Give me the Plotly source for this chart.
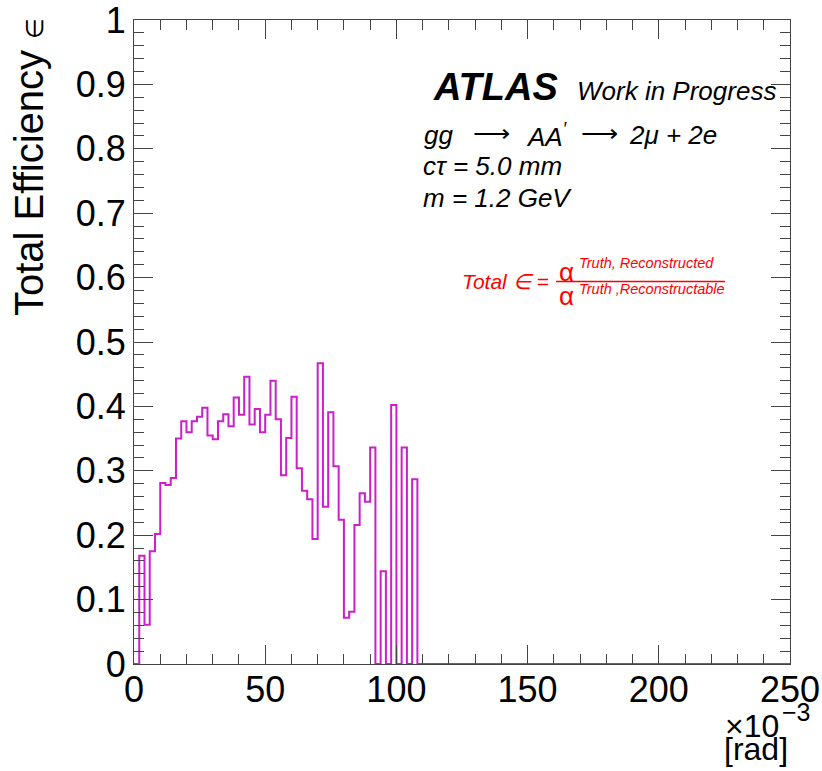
import plotly.graph_objects as go

# ---- data ----
bin_width = 2.0
x_min, x_max = 0.0, 250.0
efficiency = [
    0.0, 0.168, 0.061, 0.175, 0.202, 0.281, 0.278, 0.289, 0.350, 0.377,
    0.360, 0.377, 0.384, 0.398, 0.355, 0.349, 0.377, 0.388, 0.369, 0.414,
    0.387, 0.446, 0.372, 0.396, 0.360, 0.387, 0.440, 0.380, 0.293, 0.351,
    0.415, 0.304, 0.269, 0.256, 0.194, 0.467, 0.244, 0.391, 0.307, 0.224,
    0.072, 0.081, 0.216, 0.265, 0.252, 0.336, 0.0, 0.144, 0.0, 0.402,
    0.0, 0.336, 0.0, 0.287,
]
x_tick_vals = [0, 50, 100, 150, 200, 250]
y_tick_vals = [0, 0.1, 0.2, 0.3, 0.4, 0.5, 0.6, 0.7, 0.8, 0.9, 1.0]

n_bins = int(round((x_max - x_min) / bin_width))
values = efficiency + [0.0] * (n_bins - len(efficiency))
edges = [x_min + i * bin_width for i in range(n_bins + 1)]
step_y = values + [values[-1]]

W, H = 822, 771
L, R, T, B = 134, 32, 20, 107
PW, PH = W - L - R, H - T - B

def px(x):
    return (x - L) / PW

def py(y):
    return (H - B - y) / PH

FONT = "Liberation Sans, Arial, Helvetica, sans-serif"
MAG = "#cc1fcc"

fig = go.Figure()
fig.add_trace(go.Scatter(
    x=edges, y=step_y, mode="lines", line=dict(color=MAG, width=2, shape="hv"),
    showlegend=False, hoverinfo="skip",
))

axis_common = dict(
    showgrid=False, zeroline=False, showline=True, linecolor="#444", linewidth=1,
    mirror="ticks", ticks="inside", tickcolor="#444", tickwidth=1, automargin=False,
    ticklabeloverflow="allow",
    tickfont=dict(family=FONT, size=36, color="black"),
)
fig.update_xaxes(
    range=[x_min, x_max], tickvals=x_tick_vals, ticklen=19,
    minor=dict(dtick=10, ticks="inside", ticklen=10, tickcolor="#444", tickwidth=1),
    ticklabelstandoff=-6, **axis_common,
)
fig.update_yaxes(
    range=[0, 1], tickvals=y_tick_vals, ticklen=19,
    minor=dict(dtick=0.02, ticks="inside", ticklen=10, tickcolor="#444", tickwidth=1),
    ticklabelstandoff=0, **axis_common,
)

ann = []
def add(text, x, y, size, color="black", xanchor="left", yanchor="middle", angle=0):
    ann.append(dict(text=text, x=px(x), y=py(y), xref="paper", yref="paper",
                    xanchor=xanchor, yanchor=yanchor, showarrow=False, textangle=angle,
                    font=dict(family=FONT, size=size, color=color)))

add("Total Efficiency <span style='font-size:24px'>\u2208</span>", 29, 167, 40,
    xanchor="center", angle=-90)
add("<b><i>ATLAS</i></b>", 431, 87, 38)
add("<i>Work in Progress</i>", 575, 91, 26)
add("<i>gg</i>", 422, 135, 26)
add("\u27f6", 491, 133, 26, xanchor="center")
add("<i>AA<sup>\u2032</sup></i>", 524, 135, 26)
add("\u27f6", 599, 133, 26, xanchor="center")
add("<i>2\u03bc + 2e</i>", 627, 135, 26)
add("<i>c\u03c4 = 5.0 mm</i>", 421, 166, 26)
add("<i>m = 1.2 GeV</i>", 421, 198, 26)
# red formula
RED = "#ff0000"
add("<i>Total \u2208 =</i>", 460, 281, 21, color=RED)
add("\u03b1", 557, 272, 26, color=RED)
add("<i>Truth, Reconstructed</i>", 577, 263, 14.5, color=RED)
add("\u03b1", 557, 296, 26, color=RED)
add("<i>Truth ,Reconstructable</i>", 577, 289, 14.5, color=RED)
# axis exponent and unit
add("\u00d710", 781, 726, 32, xanchor="right")
add("\u22123", 780, 712, 25, xanchor="left")
add("[rad]", 790, 749, 32, xanchor="right")

fig.add_shape(type="line", xref="paper", yref="paper", x0=px(556), x1=px(725),
              y0=py(281.5), y1=py(281.5), line=dict(color=RED, width=1.5))

fig.update_layout(
    width=W, height=H, margin=dict(l=L, r=R, t=T, b=B),
    paper_bgcolor="white", plot_bgcolor="white", annotations=ann,
)
fig.write_html("out.html", post_script="document.body.style.margin='0';",
               config={"displayModeBar": False})
